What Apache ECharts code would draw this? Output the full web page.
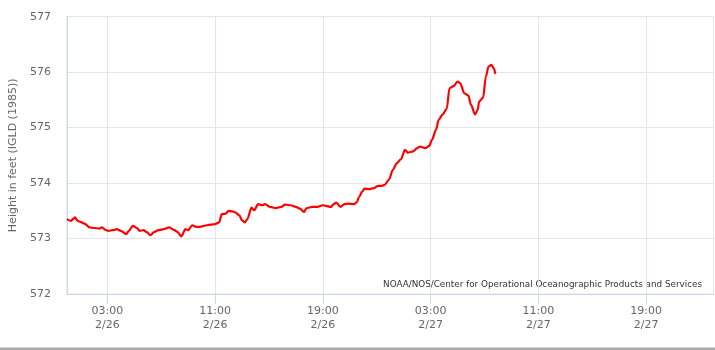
<!DOCTYPE html>
<html>
<head>
<meta charset="utf-8">
<script src="https://cdn.jsdelivr.net/npm/echarts@6/dist/echarts.min.js"></script>
<style>
html,body{margin:0;padding:0;background:#fff;}
#chart{width:715px;height:350px;}
</style>
</head>
<body>
<div id="chart"></div>
<script>
// Hours after 2/26 00:00
var hours = [0.0,0.3,0.5,0.6,0.8,1.0,1.3,1.7,2.0,2.4,2.6,2.9,3.1,3.4,3.7,4.0,4.4,4.6,4.9,5.2,5.4,5.7,5.9,6.2,6.5,6.8,7.2,7.6,8.0,8.2,8.5,8.8,9.0,9.3,9.6,9.9,10.2,10.4,10.7,
11.0,11.3,11.5,11.8,12.0,12.3,12.5,12.8,13.0,13.2,13.4,13.7,13.9,14.2,14.5,14.7,15.1,15.5,15.9,16.2,16.6,17.0,17.3,17.6,17.8,18.2,18.6,19.0,19.2,19.6,19.8,20.0,20.3,20.6,20.9,21.3,21.5,21.7,21.9,
22.1,22.4,22.8,23.1,23.4,23.6,23.9,24.2,24.5,24.8,25.1,25.3,25.7,26.0,26.2,26.6,26.9,27.1,27.4,27.6,27.9,28.2,28.4,28.7,29.0,29.2,29.5,29.8,30.0,30.3,30.5,30.6,30.9,31.1,31.3,31.5,31.7,31.8];
var heights = [573.35,573.32,573.36,573.38,573.32,573.30,573.27,573.20,573.19,573.18,573.20,573.15,573.14,573.15,573.17,573.14,573.08,573.14,573.23,573.19,573.14,573.15,573.12,573.06,573.12,573.15,573.17,573.20,573.15,573.12,573.04,573.17,573.15,573.24,573.21,573.21,573.23,573.24,573.25,
573.26,573.29,573.44,573.45,573.50,573.49,573.47,573.42,573.33,573.29,573.35,573.56,573.51,573.62,573.60,573.62,573.57,573.55,573.57,573.61,573.60,573.57,573.54,573.48,573.55,573.57,573.57,573.60,573.59,573.57,573.62,573.65,573.57,573.62,573.63,573.62,573.65,573.75,573.84,
573.90,573.89,573.91,573.95,573.95,573.97,574.06,574.24,574.36,574.43,574.60,574.55,574.57,574.63,574.66,574.63,574.67,574.78,574.96,575.14,575.24,575.34,575.71,575.75,575.83,575.80,575.62,575.58,575.41,575.24,575.32,575.47,575.54,575.92,576.10,576.13,576.07,575.97];
var tickHours = [3, 11, 19, 27, 35, 43];
var tickLabels = ['03:00\n2/26', '11:00\n2/26', '19:00\n2/26', '03:00\n2/27', '11:00\n2/27', '19:00\n2/27'];
var yTicks = [572, 573, 574, 575, 576, 577];
var yTitle = 'Height in feet (IGLD (1985))';
var creditText = 'NOAA/NOS/Center for Operational Oceanographic Products and Services';

var data = hours.map(function (h, i) { return [h, heights[i]]; });
var FONT = 'DejaVu Sans';

var chart = echarts.init(document.getElementById('chart'), null, {renderer: 'canvas'});
chart.setOption({
  animation: false,
  backgroundColor: '#ffffff',
  grid: {left: 66.5, right: 1.5, top: 16.7, bottom: 56, show: true, borderColor: '#e6e6e6', borderWidth: 1},
  xAxis: {
    type: 'value', min: 0, max: 48,
    axisLine: {show: true, lineStyle: {color: '#ccd6eb', width: 1}},
    axisTick: {show: true, length: 10, customValues: tickHours, lineStyle: {color: '#ccd6eb'}},
    splitLine: {show: true, lineStyle: {color: '#e0e4ec', width: 1}},
    axisLabel: {
      customValues: tickHours, margin: 10, color: '#666666', fontSize: 11, fontFamily: FONT, lineHeight: 14,
      formatter: function (v) { var i = tickHours.indexOf(v); return i >= 0 ? tickLabels[i] : ''; }
    }
  },
  yAxis: {
    type: 'value', min: yTicks[0], max: yTicks[yTicks.length - 1], interval: 1,
    name: yTitle, nameLocation: 'middle', nameGap: 47, nameRotate: 90,
    nameTextStyle: {color: '#666666', fontSize: 11, fontFamily: FONT},
    axisLine: {show: true, lineStyle: {color: '#ccd6eb'}},
    axisTick: {show: false},
    splitLine: {show: true, lineStyle: {color: '#e6e6e6', width: 1}},
    axisLabel: {color: '#666666', fontSize: 11, fontFamily: FONT, margin: 16}
  },
  series: [{
    type: 'line', data: data, showSymbol: false, smooth: 0.3, smoothMonotone: 'x',
    lineStyle: {color: '#ff0000', width: 2.2}, z: 3
  }],
  graphic: [
    {type: 'text', right: 13, top: 280, style: {text: creditText, fill: '#333333', font: '8.8px "DejaVu Sans"'}},
    {type: 'rect', left: 0, top: 347.5, shape: {width: 715, height: 2.5}, style: {fill: '#aaaaaa'}}
  ]
});
</script>
</body>
</html>
